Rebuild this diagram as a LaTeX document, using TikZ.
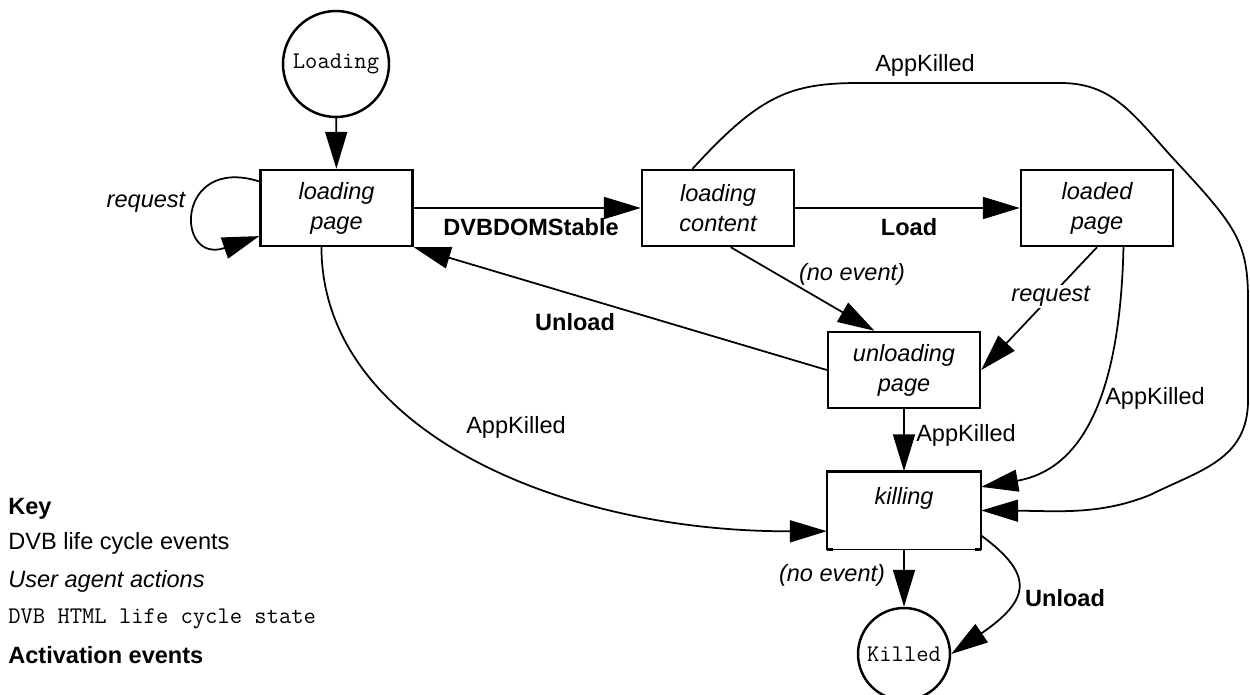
\documentclass[tikz,border=0pt]{standalone}
\usepackage{fontspec}
\setmainfont{Liberation Sans}
\usetikzlibrary{arrows.meta}
\usetikzlibrary{positioning}

\begin{document}
\begin{tikzpicture}
        [x=0.02cm, y=-0.02cm,
         state/.style={draw, line width=1.4pt, minimum width=3.04cm, minimum height=1.52cm,
                       inner sep=0pt, align=center, font=\fontsize{13.4}{17}\selectfont\itshape},
         term/.style={draw, circle, line width=1.4pt, inner sep=0pt, font=\fontsize{13.6}{15}\selectfont\ttfamily},
         edge/.style={line width=1pt, -{Triangle[length=21pt, width=12.5pt]}},
         lbl/.style={font=\fontsize{13.4}{16}\selectfont, inner sep=1pt},
         event/.style={lbl, font=\fontsize{13.4}{16}\selectfont\bfseries},
         action/.style={lbl, font=\fontsize{13.4}{16}\selectfont\itshape},
         keyline/.style={anchor=base west, inner sep=0pt, font=\fontsize{13.4}{16}\selectfont}]
        \useasboundingbox (0,0) rectangle (1250,695);

        \node [term, minimum size=2.12cm] (loading) at (336,64) {Loading};
        \node [state] (ldpage) at (336.5,208) {loading\\page};
        \node [state] (ldcontent) at (718,208) {loading\\content};
        \node [state] (ldedpage) at (1097,208) {loaded\\page};
        \node [state] (unloading) at (904,370) {unloading\\page};
        \node [state, draw=none] (killing) at (904,510.5) {killing\\~};
        \node [term, minimum size=1.84cm] (killed) at (904,654) {Killed};

        % killing box, thin bottom edge
        \draw [line width=1.4pt] (killing.south west) -- (killing.north west)
              -- (killing.north east) -- (killing.south east);
        \draw [line width=0.6pt] (killing.south west) -- (killing.south east);
        \draw [line width=1.4pt] (killing.south west) -- ++(6,0);
        \draw [line width=1.4pt] (killing.south east) -- ++(-6,0);

        \draw [edge] (loading) -- (ldpage);
        \draw [edge] (ldpage.161) .. controls (175,155) and (175,265) .. (ldpage.200);
        \draw [edge] (ldpage) -- (ldcontent);
        \draw [edge] (ldcontent) -- (ldedpage);
        \draw [edge] (ldcontent.288) -- (unloading.127);
        \draw [edge] (ldedpage.south) -- node [action, fill=white, pos=0.4] (req2) {request} (unloading.east);
        \draw [edge] (unloading.west) -- (ldpage.south east);
        \draw [edge] (unloading) -- (killing);
        \draw [edge] (ldpage.249) .. controls (322,430) and (560,532) .. (killing.195);
        \draw [edge] (ldedpage.304) .. controls (1120,400) and (1080,470) .. (killing.17);
        \draw [edge] (ldcontent.123) .. controls (760,95) and (790,83) .. (860,83) -- (1060,83)
              .. controls (1110,83) and (1130,110) .. (1170,155)
              .. controls (1235,225) and (1248,240) .. (1248,300) -- (1248,400)
              .. controls (1248,460) and (1200,470) .. (1150,495)
              .. controls (1100,515) and (1060,511) .. (killing.east);
        \draw [edge] (killing) -- (killed);
        \draw [edge] (killing.342) .. controls (1035,575) and (1030,600) .. (killed.east);

        % transition labels
        \node [action] (req1) at (146,202) {request};
        \node [event] (dvbdom) at (531,227) {DVBDOMStable};
        \node [event] (load) at (909,227) {Load};
        \node [action] (noev1) at (852,274) {(no event)};
        \node [event] (unload1) at (575,322) {Unload};
        \node [lbl] (kill1) at (516,427) {AppKilled};
        \node [lbl] (kill2) at (966,435) {AppKilled};
        \node [lbl] (kill3) at (1155,398) {AppKilled};
        \node [lbl] (kill4) at (925,65) {AppKilled};
        \node [action] (noev2) at (832,575) {(no event)};
        \node [event] (unload2) at (1065,598) {Unload};

        % key
        \node [keyline, font=\fontsize{13.4}{16}\selectfont\bfseries] (key) at (8,514) {Key};
        \node [keyline] (key1) at (8,549) {DVB life cycle events};
        \node [keyline, font=\fontsize{13.4}{16}\selectfont\itshape] (key2) at (8,587) {User agent actions};
        \node [keyline, font=\fontsize{13.6}{15}\selectfont\ttfamily] (key3) at (8,623) {DVB HTML life cycle state};
        \node [keyline, font=\fontsize{13.4}{16}\selectfont\bfseries] (key4) at (8,663) {Activation events};
\end{tikzpicture}
\end{document}
